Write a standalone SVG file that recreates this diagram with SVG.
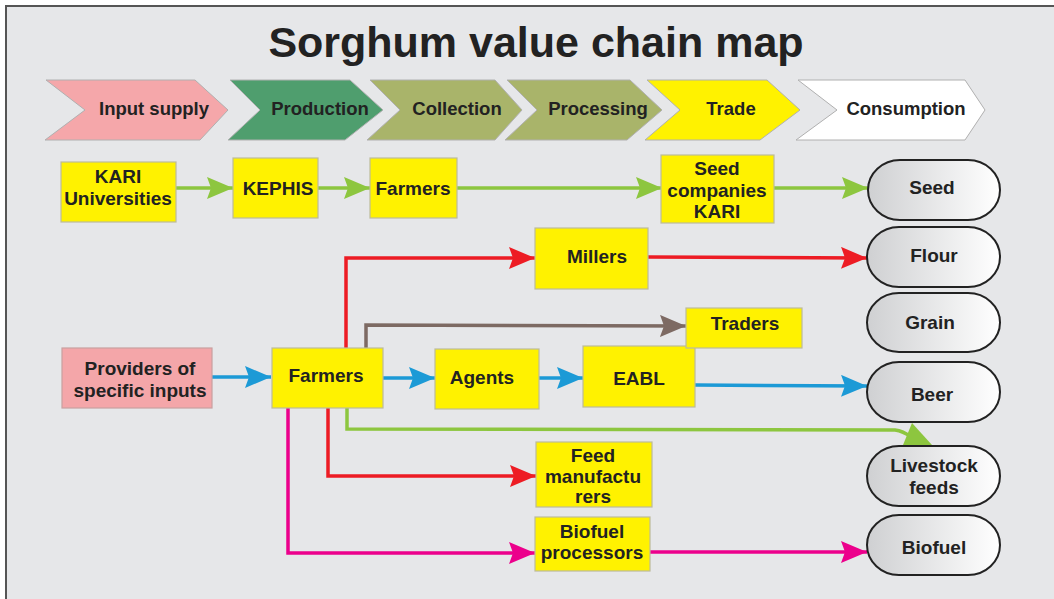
<svg xmlns="http://www.w3.org/2000/svg" width="1054" height="599" viewBox="0 0 1054 599">
<style>
text{font-family:"Liberation Sans",Arial,sans-serif;font-weight:bold;fill:#222;text-anchor:middle}
.t{font-size:19px}
.c{font-size:18.5px}
.box{fill:#fff200;stroke:#bdbb9a;stroke-width:1.2}
.pink{fill:#f4a6a9;stroke:#c9a0a0;stroke-width:1.2}
.oval{fill:url(#og);stroke:#222;stroke-width:2}
.chev{stroke:#b0b0b0;stroke-width:1}
.ln{fill:none;stroke-width:3.5}
.g{stroke:#8dc63f}
.b{stroke:#1c9ad6}
.r{stroke:#ed1c24}
.br{stroke:#7d6a63}
.m{stroke:#ec008c}
</style>
<defs>
<linearGradient id="og" x1="0" y1="0" x2="1" y2="0">
<stop offset="0" stop-color="#cfd0d2"/>
<stop offset="1" stop-color="#ffffff"/>
</linearGradient>
<marker id="ag" markerUnits="userSpaceOnUse" viewBox="0 0 26 22" markerWidth="26" markerHeight="22" refX="26" refY="11" orient="auto"><path d="M0,0 L26,11 L0,22 L4,11 z" fill="#8dc63f"/></marker>
<marker id="ab" markerUnits="userSpaceOnUse" viewBox="0 0 26 22" markerWidth="26" markerHeight="22" refX="26" refY="11" orient="auto"><path d="M0,0 L26,11 L0,22 L4,11 z" fill="#1c9ad6"/></marker>
<marker id="ar" markerUnits="userSpaceOnUse" viewBox="0 0 26 22" markerWidth="26" markerHeight="22" refX="26" refY="11" orient="auto"><path d="M0,0 L26,11 L0,22 L4,11 z" fill="#ed1c24"/></marker>
<marker id="abr" markerUnits="userSpaceOnUse" viewBox="0 0 26 22" markerWidth="26" markerHeight="22" refX="26" refY="11" orient="auto"><path d="M0,0 L26,11 L0,22 L4,11 z" fill="#7d6a63"/></marker>
<marker id="am" markerUnits="userSpaceOnUse" viewBox="0 0 26 22" markerWidth="26" markerHeight="22" refX="26" refY="11" orient="auto"><path d="M0,0 L26,11 L0,22 L4,11 z" fill="#ec008c"/></marker>
</defs>
<rect x="0" y="0" width="1054" height="599" fill="#ffffff"/>
<rect x="6" y="6" width="1052" height="600" fill="#e6e7e9" stroke="#555" stroke-width="2"/>
<text x="536" y="57" style="font-size:43px" fill="#111">Sorghum value chain map</text>

<g id="stages">
<g id="stage-input"><polygon class="chev" points="46,80 195,80 228,110 200,140 45,140 85,110" fill="#f5a7aa"/><text class="c" x="154" y="115">Input supply</text></g>
<g id="stage-production"><polygon class="chev" points="230,80 350,80 383,110 345,140 228,140 260,110" fill="#4f9e6e"/><text class="c" x="320" y="115">Production</text></g>
<g id="stage-collection"><polygon class="chev" points="370,80 495,80 522,110 495,140 367,140 400,110" fill="#a9b46a"/><text class="c" x="457" y="115">Collection</text></g>
<g id="stage-processing"><polygon class="chev" points="507,80 630,80 662,110 627,140 505,140 537,110" fill="#a9b46a"/><text class="c" x="598" y="115">Processing</text></g>
<g id="stage-trade"><polygon class="chev" points="647,80 767,80 800,110 760,140 645,140 680,110" fill="#fff200"/><text class="c" x="731" y="115">Trade</text></g>
<g id="stage-consumption"><polygon class="chev" points="798,80 965,80 985,110 965,140 796,140 837,110" fill="#ffffff"/><text class="c" x="906" y="115">Consumption</text></g>
</g>

<g id="connectors">
<line class="ln g" x1="176" y1="188" x2="233" y2="188" marker-end="url(#ag)"/>
<line class="ln g" x1="318" y1="188" x2="370" y2="188" marker-end="url(#ag)"/>
<line class="ln g" x1="457" y1="188" x2="662" y2="188" marker-end="url(#ag)"/>
<line class="ln g" x1="774" y1="188" x2="868" y2="188" marker-end="url(#ag)"/>

<line class="ln b" x1="212" y1="377" x2="271" y2="377" marker-end="url(#ab)"/>
<line class="ln b" x1="383" y1="378" x2="435" y2="378" marker-end="url(#ab)"/>
<line class="ln b" x1="539" y1="378" x2="583" y2="378" marker-end="url(#ab)"/>
<line class="ln b" x1="695" y1="385" x2="867" y2="386" marker-end="url(#ab)"/>

<polyline class="ln r" points="346,348 346,258 535,258" marker-end="url(#ar)"/>
<line class="ln r" x1="648" y1="257" x2="867" y2="258" marker-end="url(#ar)"/>
<polyline class="ln br" points="366,348 366,325 686,326" marker-end="url(#abr)"/>
<polyline class="ln r" points="328,408 328,476 536,476" marker-end="url(#ar)"/>
<polyline class="ln m" points="288,408 288,553 535,553" marker-end="url(#am)"/>
<line class="ln m" x1="650" y1="552" x2="867" y2="552" marker-end="url(#am)"/>

<path class="ln g" d="M347,408 L347,429 L895,430 Q903,431 911,437"/>
<polygon points="903,445 912,423 932,445" fill="#8dc63f"/>
</g>

<g id="n-kari"><rect class="box" x="61" y="162" width="115" height="60"/><text class="t" x="118" y="183">KARI</text><text class="t" x="118" y="205">Universities</text></g>
<g id="n-kephis"><rect class="box" x="233" y="158" width="85" height="60"/><text class="t" x="278" y="195">KEPHIS</text></g>
<g id="n-farmers1"><rect class="box" x="370" y="158" width="87" height="60"/><text class="t" x="413" y="195">Farmers</text></g>
<g id="n-seedco"><rect class="box" x="661" y="155" width="113" height="68"/><text class="t" x="717" y="175">Seed</text><text class="t" x="717" y="197">companies</text><text class="t" x="717" y="218">KARI</text></g>

<g id="n-providers"><rect class="pink" x="62" y="348" width="150" height="60"/><text class="t" x="140" y="375">Providers of</text><text class="t" x="140" y="397">specific inputs</text></g>
<g id="n-farmers2"><rect class="box" x="272" y="348" width="111" height="60"/><text class="t" x="326" y="382">Farmers</text></g>
<g id="n-agents"><rect class="box" x="435" y="349" width="104" height="60"/><text class="t" x="482" y="384">Agents</text></g>
<g id="n-eabl"><rect class="box" x="583" y="346" width="112" height="61"/><text class="t" x="639" y="385">EABL</text></g>
<g id="n-millers"><rect class="box" x="535" y="228" width="113" height="61"/><text class="t" x="597" y="263">Millers</text></g>
<g id="n-traders"><rect class="box" x="686" y="308" width="116" height="40"/><text class="t" x="745" y="330">Traders</text></g>
<g id="n-feed"><rect class="box" x="536" y="442" width="116" height="65"/><text class="t" x="593" y="462">Feed</text><text class="t" x="593" y="483">manufactu</text><text class="t" x="593" y="503">rers</text></g>
<g id="n-biofuelproc"><rect class="box" x="535" y="517" width="115" height="54"/><text class="t" x="592" y="538">Biofuel</text><text class="t" x="592" y="559">processors</text></g>

<g id="o-seed"><rect class="oval" x="868" y="160" width="132" height="60" rx="32" ry="30"/><text class="t" x="932" y="194">Seed</text></g>
<g id="o-flour"><rect class="oval" x="867" y="227" width="133" height="60" rx="32" ry="30"/><text class="t" x="934" y="262">Flour</text></g>
<g id="o-grain"><rect class="oval" x="867" y="293" width="133" height="59" rx="32" ry="29.5"/><text class="t" x="930" y="329">Grain</text></g>
<g id="o-beer"><rect class="oval" x="867" y="362" width="133" height="60" rx="32" ry="30"/><text class="t" x="932" y="401">Beer</text></g>
<g id="o-livestock"><rect class="oval" x="867" y="446" width="133" height="60" rx="32" ry="30"/><text class="t" x="934" y="472">Livestock</text><text class="t" x="934" y="494">feeds</text></g>
<g id="o-biofuel"><rect class="oval" x="867" y="515" width="133" height="60" rx="32" ry="30"/><text class="t" x="934" y="554">Biofuel</text></g>
</svg>
